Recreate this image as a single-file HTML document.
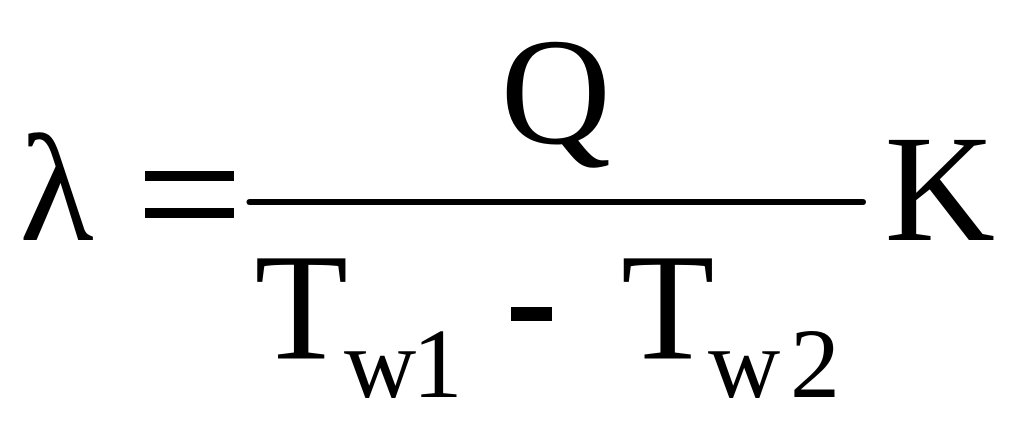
<!DOCTYPE html>
<html>
<head>
<meta charset="utf-8">
<style>
html,body{margin:0;padding:0;background:#fff;width:1024px;height:425px;overflow:hidden}
svg{display:block}
text{font-family:"Liberation Serif",serif;fill:#000}
</style>
</head>
<body>
<svg width="1024" height="425" viewBox="0 0 1024 425" xmlns="http://www.w3.org/2000/svg">
<text x="19.500" y="240" font-size="153">λ</text>
<rect x="145" y="171" width="89" height="10" fill="#000"/>
<rect x="145" y="208" width="89" height="10" fill="#000"/>
<rect x="246.500" y="199" width="619.500" height="6" rx="3" fill="#000"/>
<text x="500.500" y="143" font-size="153">Q</text>
<text x="884.500" y="240" font-size="153">K</text>
<text x="254.500" y="358.500" font-size="153">T</text>
<text x="344" y="397" font-size="100">w</text>
<text x="412.500" y="397" font-size="100">1</text>
<rect x="511" y="307" width="41" height="14" fill="#000"/>
<text x="621" y="358.500" font-size="153">T</text>
<text x="708" y="397" font-size="100">w</text>
<text x="790" y="397" font-size="100">2</text>
</svg>
</body>
</html>
